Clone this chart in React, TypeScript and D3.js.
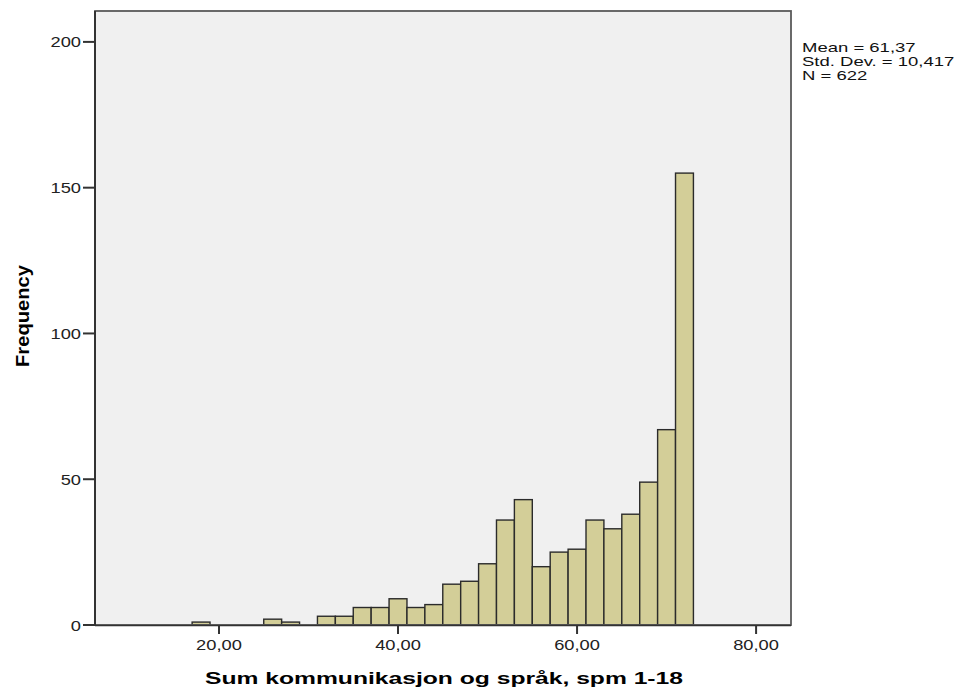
import React from 'react';
import * as d3 from 'd3';

// histogram bins (width 2) and their counts
const binStarts = [17, 19, 21, 23, 25, 27, 29, 31, 33, 35, 37, 39, 41, 43, 45, 47, 49, 51, 53, 55, 57, 59, 61, 63, 65, 67, 69, 71];
const counts = [1, 0, 0, 0, 2, 1, 0, 3, 3, 6, 6, 9, 6, 7, 14, 15, 21, 36, 43, 20, 25, 26, 36, 33, 38, 49, 67, 155];
const binWidth = 2;

const yTicks = [0, 50, 100, 150, 200];
const xTicks = [20, 40, 60, 80];
const statLines = ['Mean = 61,37', 'Std. Dev. = 10,417', 'N = 622'];

const W = 957;
const H = 690;
const plot = { left: 95, right: 791, top: 11, bottom: 625 };
const font = '"Liberation Sans", Arial, sans-serif';
const stretch = 1.22;

export default function App() {
  const x = d3.scaleLinear().domain([6.15, 83.9]).range([plot.left, plot.right]);
  const y = d3.scaleLinear().domain([0, 210.6]).range([plot.bottom, plot.top]);
  const fmt = (v: number) => d3.format('.2f')(v).replace('.', ',');

  const bars = binStarts.map((s, i) => ({ x0: s, x1: s + binWidth, n: counts[i] })).filter(b => b.n > 0);

  return (
    <svg width={W} height={H} style={{ position: 'absolute', left: 0, top: 0, background: '#fff' }}>
      <rect x={plot.left} y={plot.top} width={plot.right - plot.left} height={plot.bottom - plot.top} fill="#f0f0f0" />

      {bars.map((b, i) => (
        <rect
          key={i}
          x={x(b.x0)}
          y={y(b.n)}
          width={x(b.x1) - x(b.x0)}
          height={y(0) - y(b.n)}
          fill="#d3ce98"
          stroke="#2b2b2b"
          strokeWidth={1.4}
        />
      ))}

      {/* frame */}
      <rect x={plot.left} y={plot.top} width={plot.right - plot.left} height={plot.bottom - plot.top}
        fill="none" stroke="#5a5a5a" strokeWidth={1.8} />
      <line x1={plot.left} x2={plot.left} y1={plot.top} y2={plot.bottom + 1} stroke="#333" strokeWidth={2} />
      <line x1={plot.left} x2={plot.right} y1={plot.bottom + 0.5} y2={plot.bottom + 0.5} stroke="#333" strokeWidth={1.5} />

      {/* y axis */}
      {yTicks.map(t => (
        <g key={t}>
          <line x1={plot.left - 12} x2={plot.left} y1={y(t)} y2={y(t)} stroke="#333" strokeWidth={2} />
          <text
            transform={`translate(81,${y(t) + 5.5}) scale(${stretch},1)`}
            textAnchor="end"
            fontFamily={font}
            fontSize={15}
            fill="#222"
          >{t}</text>
        </g>
      ))}

      {/* x axis */}
      {xTicks.map(t => (
        <g key={t}>
          <line x1={x(t)} x2={x(t)} y1={plot.bottom} y2={plot.bottom + 9} stroke="#333" strokeWidth={2} />
          <text
            transform={`translate(${x(t)},${plot.bottom + 25}) scale(${stretch},1)`}
            textAnchor="middle"
            fontFamily={font}
            fontSize={15}
            fill="#222"
          >{fmt(t)}</text>
        </g>
      ))}

      <text x={444} y={684} textAnchor="middle" fontFamily={font} fontSize={17} fontWeight="bold"
        textLength={478} lengthAdjust="spacingAndGlyphs" fill="#000">
        Sum kommunikasjon og språk, spm 1-18
      </text>

      <text transform="translate(29,316) rotate(-90)" textAnchor="middle" fontFamily={font} fontSize={18}
        fontWeight="bold" textLength={102} lengthAdjust="spacingAndGlyphs" fill="#000">
        Frequency
      </text>

      {statLines.map((s, i) => (
        <text
          key={s}
          transform={`translate(802,${52 + i * 14}) scale(1.37,1)`}
          fontFamily={font}
          fontSize={13.5}
          fill="#111"
        >{s}</text>
      ))}
    </svg>
  );
}
